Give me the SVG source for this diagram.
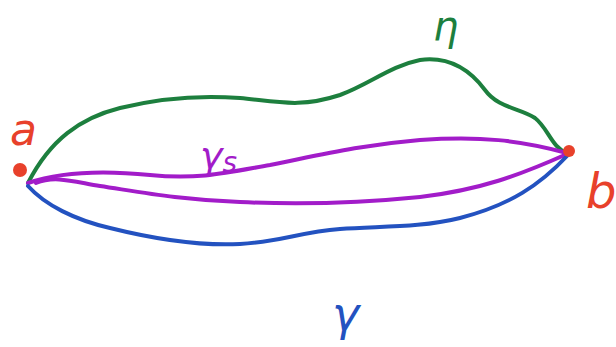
<svg xmlns="http://www.w3.org/2000/svg" width="616" height="347" viewBox="0 0 616 347">
<style>
.c{fill:none;stroke-width:4;stroke-linecap:round;stroke-linejoin:round}
.g{stroke:#1d7f3e}.p{stroke:#a21cc9}.bl{stroke:#2352c0}
.t{font-family:"DejaVu Sans",sans-serif;font-style:italic}
.r{fill:#e8412b}
</style>
<rect width="616" height="347" fill="#fff"/>
<g id="connectors">
<g id="eta">
<path class="c g" d="M28,183 C50,140 80,118 120,108 C160,98 200,95 240,98 C280,102 300,108 340,95 C370,84 390,66 420,60 C450,56 470,70 485,90 C498,108 520,108 535,118 C548,128 552,148 567,153"/>
<text class="t" x="433" y="40" font-size="40" fill="#1d7f3e">η</text>
</g>
<g id="gamma_s">
<path class="c p" d="M28,183 C60,172 100,170 150,175 C200,180 230,172 270,165 C320,155 360,145 420,140 C480,136 520,140 567,153"/>
<path class="c p" d="M36,183 C55,175 75,182 100,186 C140,192 180,200 240,202 C300,205 360,203 420,197 C480,190 520,175 567,154"/>
<text class="t" x="200" y="168" font-size="38" fill="#a21cc9">γ<tspan font-size="28" dy="4">s</tspan></text>
</g>
<g id="gamma">
<path class="c bl" d="M28,186 C45,205 75,220 110,228 C150,238 200,246 240,244 C280,242 300,232 340,229 C380,226 420,228 460,218 C510,205 540,185 568,155"/>
<text class="t" x="332" y="330" font-size="46" fill="#2352c0">γ</text>
</g>
</g>
<g id="node-a">
<circle class="r" cx="20" cy="170" r="7"/>
<text class="t" x="10" y="145" font-size="44" fill="#e8412b">a</text>
</g>
<g id="node-b">
<circle class="r" cx="569" cy="151" r="6"/>
<text class="t" x="586" y="208" font-size="48" fill="#e8412b">b</text>
</g>
</svg>
